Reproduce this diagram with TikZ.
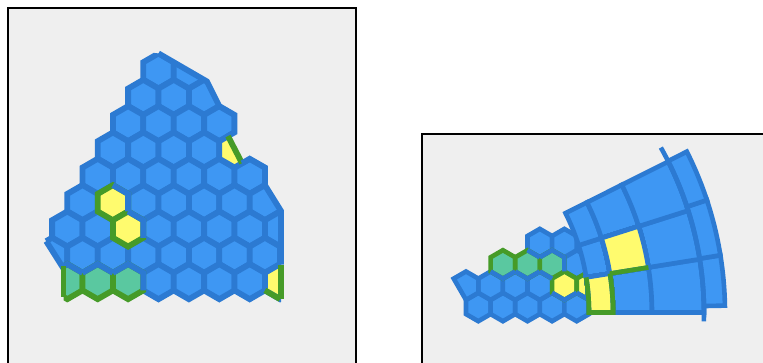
\documentclass[tikz,border=0pt]{standalone}
\usetikzlibrary{shapes.geometric}
\definecolor{panelgray}{HTML}{EFEFEF}
\definecolor{cellblue}{HTML}{3E97F3}
\definecolor{edgeblue}{HTML}{2C7AD2}
\definecolor{cellyellow}{HTML}{FFFB6E}
\definecolor{cellteal}{HTML}{5AC8A0}
\definecolor{edgegreen}{HTML}{469B28}
% one cell of the fan: style, start angle, end angle, inner radius, outer radius
\newcommand{\fancell}[5]{%
  \path[#1] (#2:#4) -- (#2:#5) arc[start angle=#2,end angle=#3,radius=#5]
    -- (#3:#4) arc[start angle=#3,end angle=#2,radius=#4] -- cycle;}

\begin{document}
\begin{tikzpicture}[x=1pt,y=-1pt,line join=miter,
    panel/.style={draw=black,line width=2pt,fill=panelgray},
    hexcell/.style={regular polygon,regular polygon sides=6,shape border rotate=30,
      inner sep=0pt,outer sep=0pt},
    hexbig/.style={hexcell,minimum size=35.1pt,line width=5.8pt},
    hexsmall/.style={hexcell,minimum size=28.4pt,line width=4.6pt},
    bluecell/.style={draw=edgeblue,fill=cellblue},
    yellowcell/.style={draw=edgegreen,fill=cellyellow},
    tealcell/.style={draw=edgegreen,fill=cellteal},
    blueline/.style={draw=edgeblue,line width=#1},
    greenline/.style={draw=edgegreen,line width=#1}]
  \useasboundingbox (0,0) rectangle (763,363);

  % left panel
  \path[panel] (7.5,8.3) rectangle (355.5,400);
  \begin{scope}
    \clip (30,40) -- (158.5,53.4) -- (207,81.5) -- (219.3,106.1) -- (234.5,114.9)
      -- (234.5,132.4) -- (228,136.1) -- (242,163.2) -- (249.7,158.8) -- (264.9,167.5)
      -- (264.9,185.1) -- (281,211) -- (281,330) -- (63.5,330) -- (63.5,268.5)
      -- (46.2,241.2) -- (30,215) -- cycle;
    \foreach \j/\ks in {0/{7,9},1/{6,8,10},2/{5,7,9,11},3/{4,6,8,10},
        4/{3,5,7,9,11,13},5/{2,6,8,10,12,14},6/{1,3,7,9,11,13,15},
        7/{0,2,4,6,8,10,12,14},8/{7,9,11,13}}
      \foreach \k in \ks
        \node[hexbig,bluecell] (l\j_\k) at ({52.1+15.2*\k},{71+26.33*\j}) {};
    \node[hexbig,draw=edgeblue,fill=cellyellow] (yA) at (234.5,150) {};
    \node[hexbig,draw=edgeblue,fill=cellyellow] (yD) at (280.1,281.6) {};
    \node[hexbig,yellowcell] (yB) at (112.9,202.7) {};
    \node[hexbig,yellowcell] (yC) at (128.1,229) {};
    \node[hexbig,tealcell] (tA) at (67.3,281.6) {};
    \node[hexbig,tealcell] (tB) at (97.7,281.6) {};
    \node[hexbig,tealcell] (tC) at (128.1,281.6) {};
    \draw[greenline=5.8pt] (yD.-150) -- (yD.-90);
    \draw[blueline=5.8pt] (yB.90) -- (yB.30) -- (yB.-30);
    \draw[blueline=5.8pt] (yC.90) -- (yC.30) -- (yC.-30);
    \draw[blueline=5.8pt] (tA.150) -- (tA.90) -- (tA.30);
    \draw[blueline=5.8pt] (tB.150) -- (tB.90) -- (tB.30);
    \draw[blueline=5.8pt] (tC.150) -- (tC.90) -- (tC.30) -- (tC.-30);
  \end{scope}
  % cut edges of the left patch
  \draw[blueline=5.8pt] (158.5,53.4) -- (207,81.5) -- (219.3,106.1) -- (234.5,114.9)
    -- (234.5,132.4) -- (228,136.1);
  \draw[greenline=5.8pt] (228,136.1) -- (242,163.2);
  \draw[blueline=5.8pt] (242,163.2) -- (249.7,158.8) -- (264.9,167.5) -- (264.9,185.1)
    -- (281,211) -- (281,264.6);
  \draw[greenline=5.8pt] (281,264.6) -- (281,298.6);
  \draw[blueline=5.8pt] (46.2,241.2) -- (63.5,268.5);
  \draw[greenline=5.8pt] (63.5,266.2) -- (63.5,297);

  % right panel
  \path[panel] (422.2,133.7) rectangle (800,400);
  \foreach \r/\ks in {0/{1,3,5,7,9},1/{2,4,6},2/{9},3/{6,8}}
    \foreach \k in \ks
      \node[hexsmall,bluecell] (r\r_\k) at ({466+12.3*\k},{307-21.3*\r}) {};
  \node[hexsmall] (r1_0) at (466,285.7) {};
  \path[bluecell,line width=4.6pt] (r1_0.150) -- (r1_0.90) -- (r1_0.30) -- (r1_0.-30)
    -- (r1_0.-90) -- cycle;
  \node[hexsmall,tealcell] (tD) at (502.9,264.4) {};
  \node[hexsmall,tealcell] (tE) at (527.5,264.4) {};
  \node[hexsmall,tealcell] (tF) at (552.1,264.4) {};
  \node[hexsmall,yellowcell] (yE) at (564.4,285.7) {};
  \node[hexsmall,yellowcell] (yF) at (589,285.7) {};
  \draw[blueline=4.6pt] (tD.-30) -- (tD.-90) -- (tD.-150);
  \draw[blueline=4.6pt] (tE.90) -- (tE.30) (tE.-30) -- (tE.-90) -- (tE.-150);
  \draw[blueline=4.6pt] (tF.150) -- (tF.90) -- (tF.30) -- (tF.-30) (tF.-90) -- (tF.-150);
  \draw[blueline=4.6pt] (yE.-30) -- (yE.-90) -- (yE.-150);
  \draw[blueline=4.6pt] (yF.-90) -- (yF.-150);

  % fan of the outer cells
  \begin{scope}[shift={(367,312.5)},y=1pt,line width=4.6pt]
    \foreach \a/\b/\ri/\ro in {9.1/17.6/222/246,17.6/26.6/222/246,0/9.1/246/285,
        17.6/26.6/246/285,0/9.1/285/337,9.1/17.6/285/337,17.6/26.6/285/337,
        1.1/9.2/337/358,9.2/18.3/337/358,18.3/26.7/337/358}
      \fancell{bluecell}{\a}{\b}{\ri}{\ro}
    \fancell{draw=edgeblue,fill=cellyellow}{0}{9.1}{222}{246}
    \fancell{draw=edgeblue,fill=cellyellow}{9.1}{17.6}{246}{285}
    \draw[greenline=4.6pt] (9.1:222) arc[start angle=9.1,end angle=0,radius=222]
      -- (0:246) arc[start angle=0,end angle=9.1,radius=246];
    \draw[greenline=4.6pt] (9.1:246) -- (9.1:285);
    \draw[blueline=4.6pt] (-1.5:337) arc[start angle=-1.5,end angle=29.3,radius=337];
  \end{scope}
\end{tikzpicture}
\end{document}
